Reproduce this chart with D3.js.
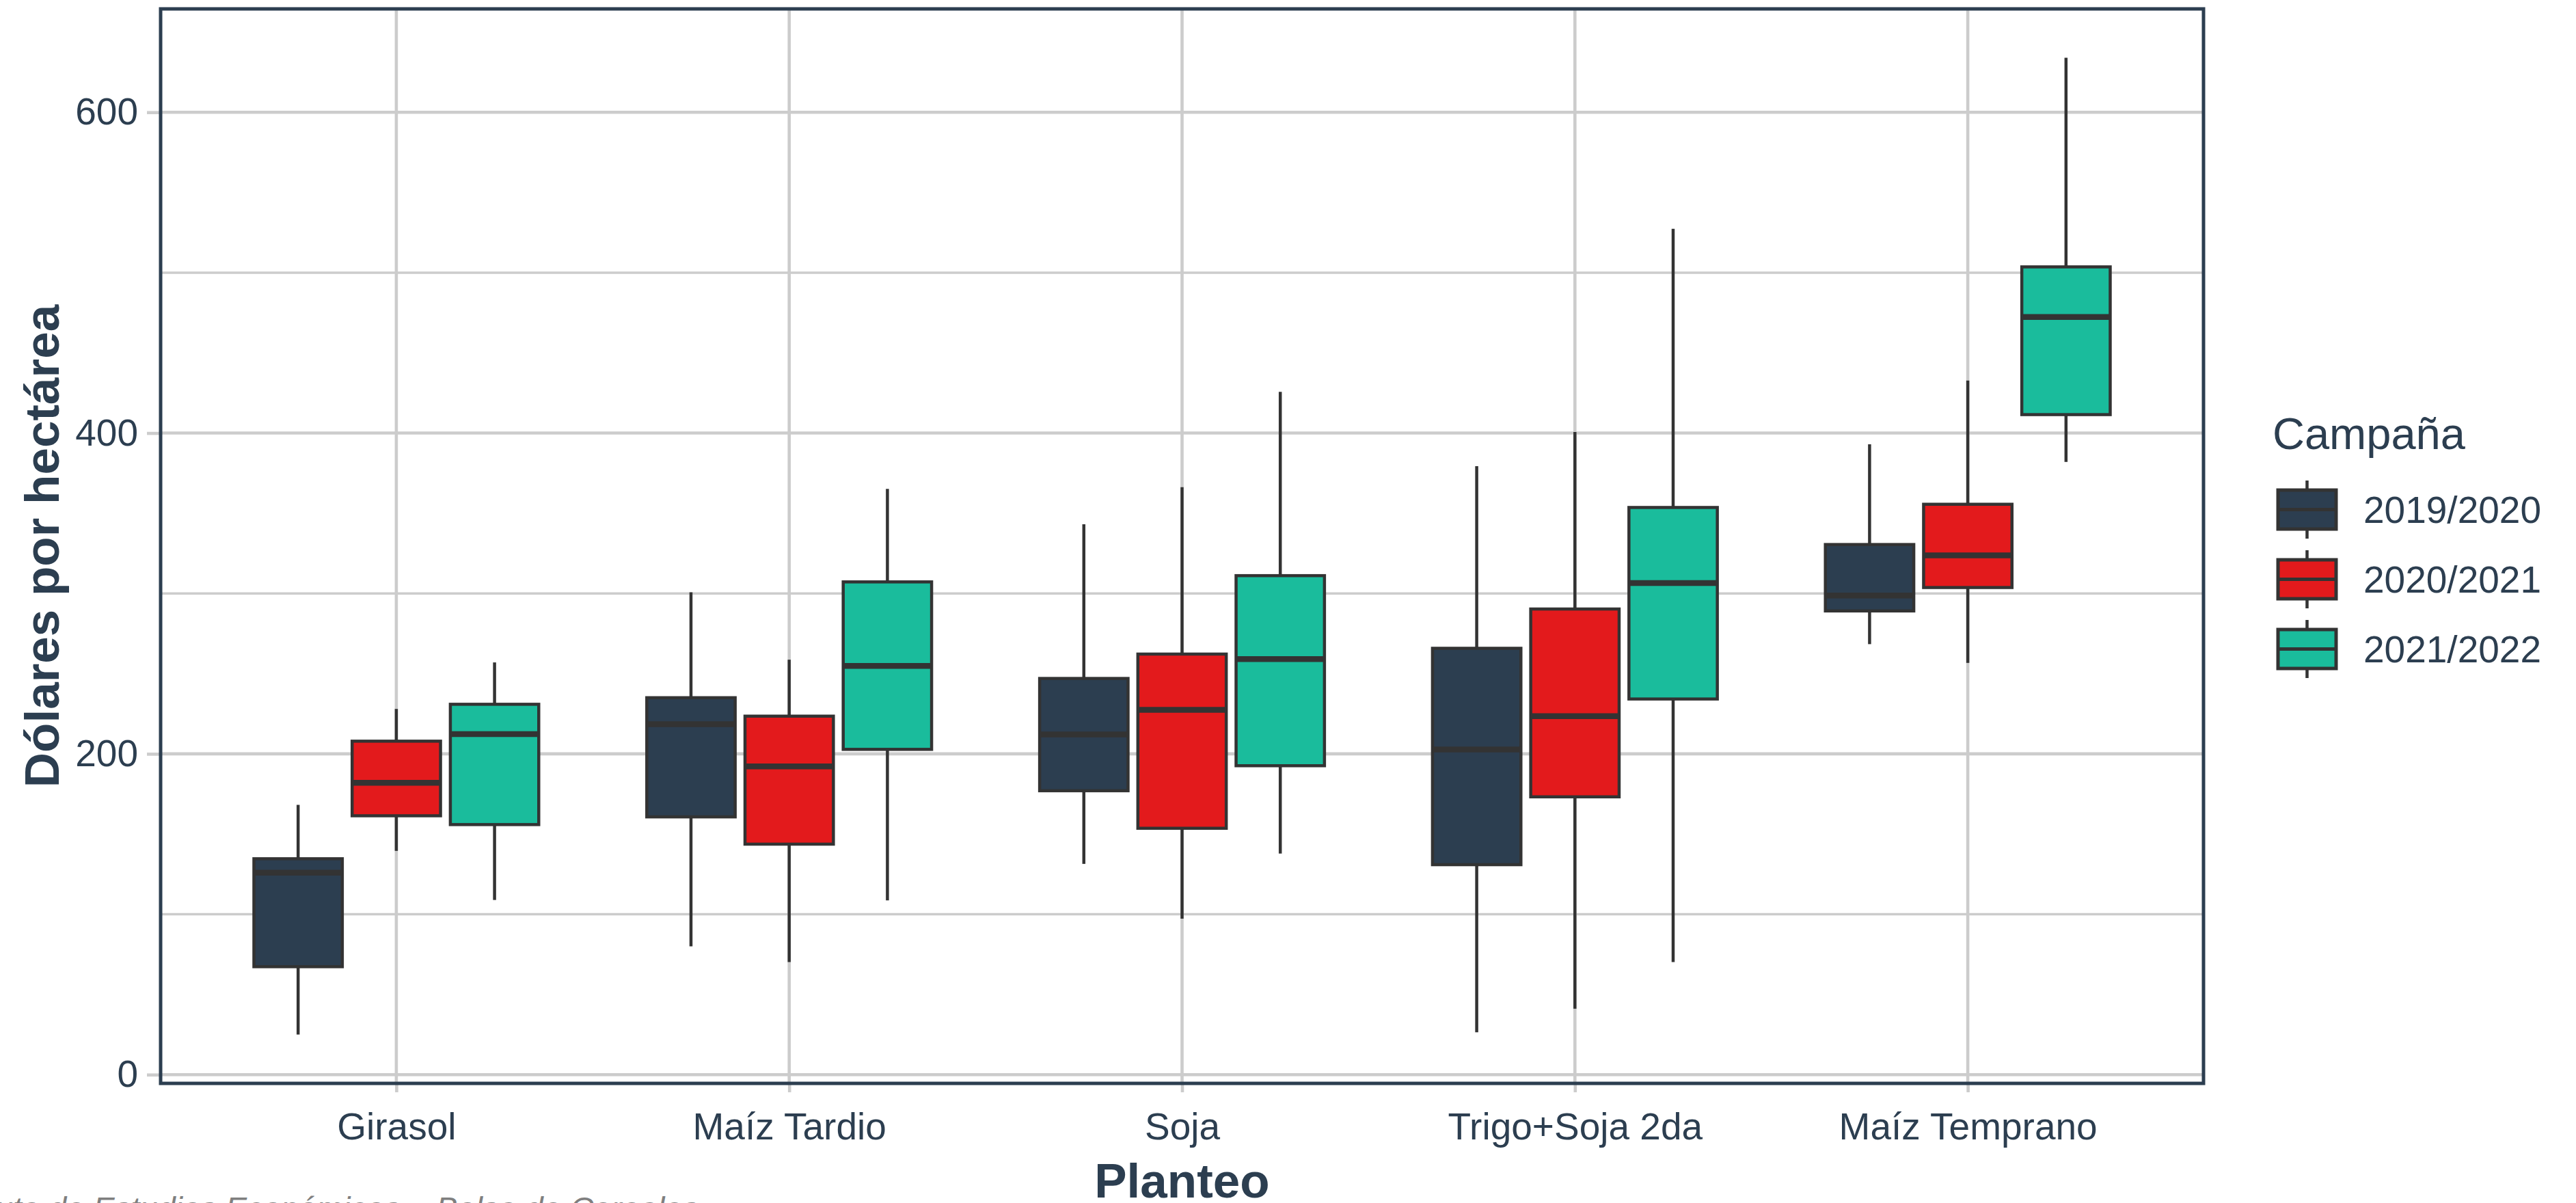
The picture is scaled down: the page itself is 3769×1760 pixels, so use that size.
<!DOCTYPE html>
<html>
<head>
<meta charset="utf-8">
<script src="https://cdn.jsdelivr.net/npm/d3@7"></script>
<style>
  html, body { margin: 0; padding: 0; background: #ffffff; }
  svg { display: block; }
  text { font-family: "Liberation Sans", Arial, sans-serif; }
</style>
</head>
<body>
<script>
// ---------------- data ----------------
const categories = ["Girasol", "Maíz Tardio", "Soja", "Trigo+Soja 2da", "Maíz Temprano"];
const campaigns = ["2019/2020", "2020/2021", "2021/2022"];
const campaignColors = ["#2c3e50", "#e31a1c", "#1abc9c"];

// per category: [lower whisker, Q1, median, Q3, upper whisker]
const stats2019 = [
  [25.0, 67.3, 125.9, 134.6, 168.2],
  [80.0, 160.7, 218.5, 235.0, 300.7],
  [131.4, 177.0, 212.1, 247.0, 343.1],
  [26.4, 130.9, 202.7, 265.8, 379.4],
  [268.4, 289.1, 298.7, 330.5, 393.0]
];
const stats2020 = [
  [139.5, 161.4, 182.0, 207.9, 228.0],
  [70.2, 143.7, 192.2, 223.5, 258.7],
  [97.3, 153.6, 227.4, 262.2, 366.3],
  [41.1, 173.2, 223.5, 290.3, 400.7],
  [256.7, 303.7, 323.8, 355.6, 432.7]
];
const stats2021 = [
  [108.9, 155.9, 212.3, 230.9, 257.0],
  [108.7, 202.8, 254.8, 307.2, 365.2],
  [137.8, 192.6, 259.1, 311.1, 425.7],
  [70.2, 234.2, 306.5, 353.6, 527.3],
  [382.0, 411.5, 472.4, 503.6, 634.0]
];
const majorTicks = [0, 200, 400, 600];
const minorTicks = [100, 300, 500];
const yTitle = "Dólares por hectárea";
const xTitle = "Planteo";
const legendTitle = "Campaña";
const caption = "Fuente: Instituto de Estudios Económicos – Bolsa de Cereales";

// ---------------- layout ----------------
const W = 3769, H = 1760;
const panel = { left: 235, right: 3224, top: 13, bottom: 1585 };
const textColor = "#2c3e50";
const gridColor = "#cccccc";
const boxStroke = "#333333";

const allStats = [stats2019, stats2020, stats2021];
const series = campaigns.map((c, i) => ({ name: c, color: campaignColors[i], stats: allStats[i] }));

const svg = d3.select("body").append("svg")
  .attr("width", W).attr("height", H)
  .attr("viewBox", `0 0 ${W} ${H}`);
svg.append("rect").attr("width", W).attr("height", H).attr("fill", "#ffffff");

// y scale with ggplot-style 5% expansion
const flat = allStats.flat(2);
const lo = d3.min(flat), hi = d3.max(flat);
const pad = (hi - lo) * 0.05;
const y = d3.scaleLinear().domain([lo - pad, hi + pad]).range([panel.bottom, panel.top]);

// x scale with 0.6 unit expansion on each side
const x = d3.scalePoint().domain(categories).range([panel.left, panel.right]).padding(0.6);
const unit = x.step();
const dodge = d3.scaleBand().domain(campaigns).range([-0.375 * unit, 0.375 * unit]);
const boxW = dodge.bandwidth() * 0.9;

// ---------------- grid ----------------
const grid = svg.append("g");
grid.selectAll("line.minor").data(minorTicks).join("line")
  .attr("x1", panel.left).attr("x2", panel.right)
  .attr("y1", d => y(d)).attr("y2", d => y(d))
  .attr("stroke", gridColor).attr("stroke-width", 3.5);
grid.selectAll("line.majorY").data(majorTicks).join("line")
  .attr("x1", panel.left).attr("x2", panel.right)
  .attr("y1", d => y(d)).attr("y2", d => y(d))
  .attr("stroke", gridColor).attr("stroke-width", 4.6);
grid.selectAll("line.majorX").data(categories).join("line")
  .attr("x1", d => x(d)).attr("x2", d => x(d))
  .attr("y1", panel.top).attr("y2", panel.bottom)
  .attr("stroke", gridColor).attr("stroke-width", 4.6);

// ---------------- axes ----------------
const yAxis = d3.axisLeft(y).tickValues(majorTicks).tickSize(20).tickPadding(13).tickFormat(d3.format("d"));
const gy = svg.append("g").attr("transform", `translate(${panel.left},0)`).call(yAxis);
gy.select(".domain").remove();
gy.selectAll(".tick line").attr("stroke", gridColor).attr("stroke-width", 4.6);
gy.selectAll(".tick text").attr("fill", textColor).attr("font-size", 55)
  .attr("font-family", '"Liberation Sans", Arial, sans-serif');

const xAxis = d3.axisBottom(x).tickSize(13).tickPadding(30);
const gx = svg.append("g").attr("transform", `translate(0,${panel.bottom})`).call(xAxis);
gx.select(".domain").remove();
gx.selectAll(".tick line").attr("stroke", gridColor).attr("stroke-width", 4.6);
gx.selectAll(".tick text").attr("fill", textColor).attr("font-size", 55)
  .attr("font-family", '"Liberation Sans", Arial, sans-serif');

// ---------------- boxes ----------------
const boxes = [];
series.forEach(s => {
  s.stats.forEach((st, i) => {
    boxes.push({ cat: categories[i], camp: s.name, color: s.color, st });
  });
});
const gb = svg.append("g");
const bg = gb.selectAll("g.box").data(boxes).join("g")
  .attr("transform", d => `translate(${x(d.cat) + dodge(d.camp) + dodge.bandwidth() / 2},0)`);
bg.append("line").attr("x1", 0).attr("x2", 0)
  .attr("y1", d => y(d.st[4])).attr("y2", d => y(d.st[3]))
  .attr("stroke", boxStroke).attr("stroke-width", 4.5);
bg.append("line").attr("x1", 0).attr("x2", 0)
  .attr("y1", d => y(d.st[1])).attr("y2", d => y(d.st[0]))
  .attr("stroke", boxStroke).attr("stroke-width", 4.5);
bg.append("rect")
  .attr("x", -boxW / 2).attr("width", boxW)
  .attr("y", d => y(d.st[3])).attr("height", d => y(d.st[1]) - y(d.st[3]))
  .attr("fill", d => d.color).attr("stroke", boxStroke).attr("stroke-width", 4.5);
bg.append("line").attr("x1", -boxW / 2).attr("x2", boxW / 2)
  .attr("y1", d => y(d.st[2])).attr("y2", d => y(d.st[2]))
  .attr("stroke", boxStroke).attr("stroke-width", 8.5);

// ---------------- panel border ----------------
svg.append("rect")
  .attr("x", panel.left).attr("y", panel.top)
  .attr("width", panel.right - panel.left).attr("height", panel.bottom - panel.top)
  .attr("fill", "none").attr("stroke", textColor).attr("stroke-width", 5);

// ---------------- titles ----------------
svg.append("text")
  .attr("transform", `translate(86,${(panel.top + panel.bottom) / 2}) rotate(-90)`)
  .attr("text-anchor", "middle").attr("font-size", 71).attr("font-weight", "bold")
  .attr("fill", textColor).text(yTitle);
svg.append("text")
  .attr("x", (panel.left + panel.right) / 2).attr("y", 1752)
  .attr("text-anchor", "middle").attr("font-size", 71).attr("font-weight", "bold")
  .attr("fill", textColor).text(xTitle);

// caption (partially outside the canvas, as in the reference)
svg.append("text")
  .attr("x", 1022).attr("y", 1784)
  .attr("text-anchor", "end").attr("font-size", 47).attr("font-style", "italic")
  .attr("fill", "#7f7f7f").text(caption);

// ---------------- legend ----------------
const lg = svg.append("g");
lg.append("text").attr("x", 3325).attr("y", 657)
  .attr("font-size", 65).attr("fill", textColor).text(legendTitle);
const keyPitch = 102, keyTop = 693, keyX = 3333, keyW = 85;
const items = lg.selectAll("g.item").data(series).join("g")
  .attr("transform", (d, i) => `translate(${keyX},${keyTop + i * keyPitch})`);
items.append("line").attr("x1", keyW / 2).attr("x2", keyW / 2)
  .attr("y1", 10).attr("y2", 95)
  .attr("stroke", boxStroke).attr("stroke-width", 4.5);
items.append("rect").attr("x", 0).attr("width", keyW)
  .attr("y", 24).attr("height", 57)
  .attr("fill", d => d.color).attr("stroke", boxStroke).attr("stroke-width", 5);
items.append("line").attr("x1", 0).attr("x2", keyW)
  .attr("y1", 52.5).attr("y2", 52.5)
  .attr("stroke", boxStroke).attr("stroke-width", 5);
items.append("text").attr("x", 125).attr("y", 52.5)
  .attr("dy", "0.36em")
  .attr("font-size", 55).attr("fill", textColor).text(d => d.name);
</script>
</body>
</html>
